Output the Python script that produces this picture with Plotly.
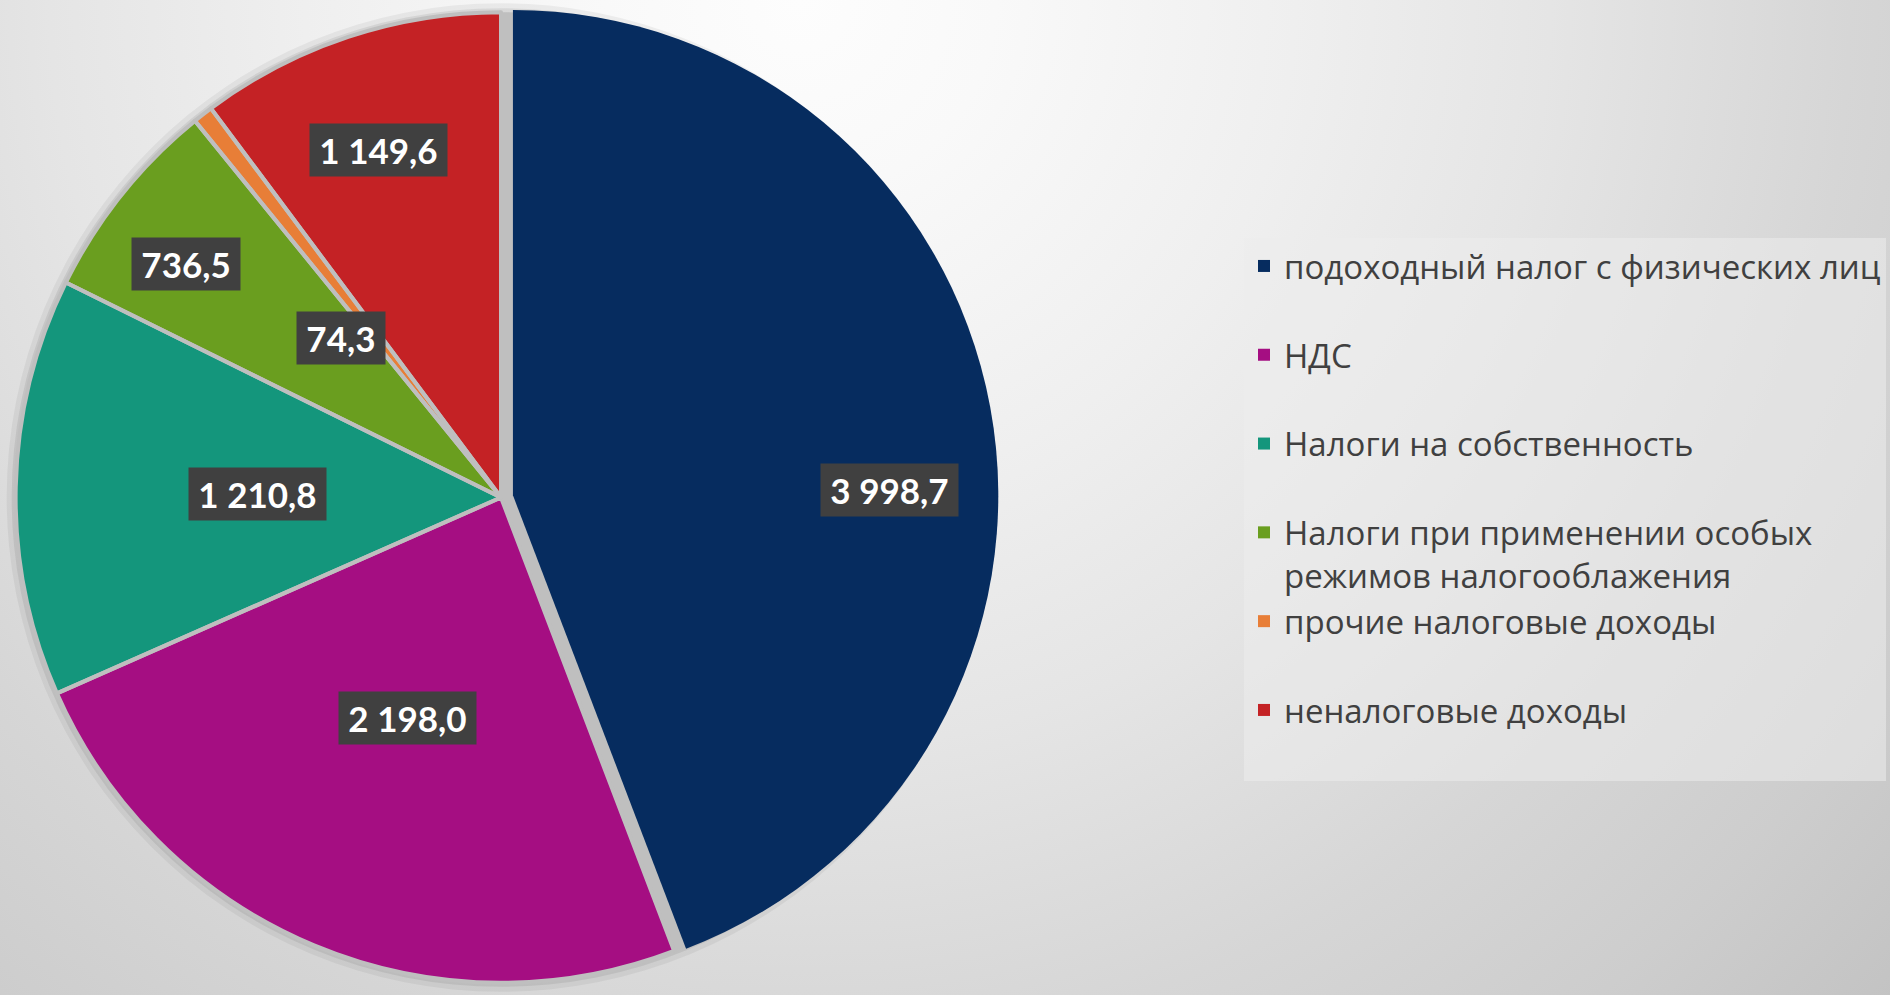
import base64
import math
import plotly.graph_objects as go

# Data
labels = ["подоходный налог с физических лиц", "НДС", "Налоги на собственность",
          "Налоги при применении особых<br>режимов налогооблажения",
          "прочие налоговые доходы", "неналоговые доходы"]
values = [3998.7, 2198.0, 1210.8, 736.5, 74.3, 1149.6]
# slice sizes as drawn in the picture (degrees), they do not follow the labels exactly
slice_deg = [159.1, 87.1, 50.1, 24.6, 2.4, 36.7]
colors = ["#062C5F", "#A50E82", "#14967C", "#6A9E1F", "#E87E37", "#C42225"]
pulls = [0.025, 0, 0, 0, 0, 0]

# label placement (fraction of radius, turn from slice middle in degrees)
label_r = [0.80, 0.494, 0.502, 0.808, 0.466, 0.759]
label_turn = [9.4, 0.3, -0.4, -2.0, -7.3, -1.1]

W, H = 1890, 995
cx = 501
r = H / 2 / (1 + max(pulls))


def fmt(v):
    return f"{v:,.1f}".replace(",", " ").replace(".", ",")


def disc_domain(rad):
    return dict(x=[(cx - rad) / W, (cx + rad) / W], y=[(H / 2 - rad) / H, (H / 2 + rad) / H])


# Background gradient
bg_svg = f'''<svg xmlns="http://www.w3.org/2000/svg" width="{W}" height="{H}">
<defs><radialGradient id="g" gradientUnits="userSpaceOnUse" cx="800" cy="0" r="1500">
<stop offset="0" stop-color="#fdfdfd"/><stop offset="0.13" stop-color="#f9f9f9"/>
<stop offset="0.33" stop-color="#efefef"/><stop offset="0.5" stop-color="#e5e5e5"/>
<stop offset="0.7" stop-color="#d6d6d6"/><stop offset="0.85" stop-color="#cdcdcd"/>
<stop offset="1" stop-color="#c2c2c2"/>
</radialGradient></defs><rect width="{W}" height="{H}" fill="url(#g)"/></svg>'''
bg_src = "data:image/svg+xml;base64," + base64.b64encode(bg_svg.encode()).decode()

# legend labels padded to two lines for spacing
legend_labels = [l if "<br>" in l else l + "<br>\u00a0" for l in labels]
pie_domain = dict(x=[(cx - H / 2) / W, (cx + H / 2) / W], y=[0, 1])

fig = go.Figure()

# soft shadow and gray underlay
fig.add_trace(go.Pie(values=[1], marker=dict(colors=["rgba(0,0,0,0.05)"], line=dict(width=0)),
                     domain=disc_domain(r + 9), textinfo="none", hoverinfo="skip", showlegend=False, sort=False))
fig.add_trace(go.Pie(values=[1], marker=dict(colors=["rgba(0,0,0,0.07)"], line=dict(width=0)),
                     domain=disc_domain(r + 4), textinfo="none", hoverinfo="skip", showlegend=False, sort=False))
fig.add_trace(go.Pie(values=[1], marker=dict(colors=["#BFBFBF"], line=dict(width=0)),
                     domain=disc_domain(r), textinfo="none", hoverinfo="skip", showlegend=False, sort=False))

fig.add_trace(go.Pie(
    labels=legend_labels, values=slice_deg, sort=False, direction="clockwise", rotation=0,
    pull=pulls, marker=dict(colors=colors, line=dict(width=0)),
    textinfo="none", hovertext=[fmt(v) for v in values], hoverinfo="text",
    domain=pie_domain,
))
# gray separators on top
fig.add_trace(go.Pie(
    labels=legend_labels, values=slice_deg, sort=False, direction="clockwise", rotation=0,
    pull=pulls, marker=dict(colors=["rgba(0,0,0,0)"] * 6,
                            line=dict(color="#BFBFBF", width=[0, 4, 4, 4, 4, 4])),
    textinfo="none", hoverinfo="skip", showlegend=False, domain=pie_domain,
))

# value labels
total = sum(slice_deg)
start = 0
cy = H / 2
for i, v in enumerate(values):
    mid = start + slice_deg[i] / total * 180
    start += slice_deg[i] / total * 360
    a = math.radians(mid + label_turn[i])
    px = cx + label_r[i] * r * math.sin(a)
    py = cy - label_r[i] * r * math.cos(a)
    fig.add_annotation(x=px / W, y=1 - py / H, xref="paper", yref="paper",
                       xanchor="center", yanchor="middle", text="\u2009" + fmt(v) + "\u2009",
                       showarrow=False, bgcolor="#404040", borderpad=5,
                       font=dict(family="Lato", size=35, color="white", weight="bold"))

fig.update_layout(
    width=W, height=H, margin=dict(l=0, r=0, t=0, b=0),
    paper_bgcolor="#e0e0e0", plot_bgcolor="rgba(0,0,0,0)",
    images=[dict(source=bg_src, xref="paper", yref="paper", x=0, y=1, sizex=1, sizey=1,
                 xanchor="left", yanchor="top", sizing="stretch", layer="below")],
    legend=dict(x=1244 / W, y=1 - 238 / H, xanchor="left", yanchor="top", valign="top",
                bgcolor="rgba(236,236,236,0.55)", borderwidth=0,
                font=dict(family="Open Sans", size=33, color="#404040")),
)

fig.write_html("out.html", config={"displayModeBar": False},
               post_script="document.body.style.margin = '0';")
